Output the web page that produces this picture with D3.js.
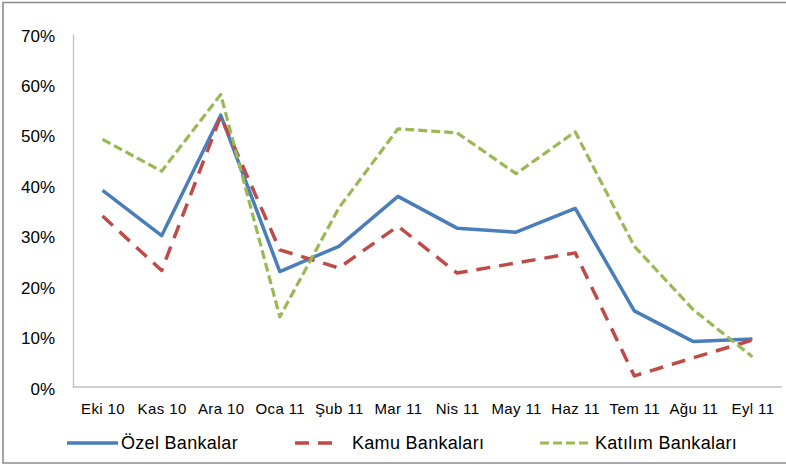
<!DOCTYPE html>
<html>
<head>
<meta charset="utf-8">
<script src="https://cdn.jsdelivr.net/npm/d3@7"></script>
<style>
  body { margin: 0; background: #fff; }
  text { font-family: "Liberation Sans", Arial, sans-serif; fill: #000; }
</style>
</head>
<body>
<script>
var months = ['Eki 10', 'Kas 10', 'Ara 10', 'Oca 11', 'Şub 11', 'Mar 11', 'Nis 11', 'May 11', 'Haz 11', 'Tem 11', 'Ağu 11', 'Eyl 11'];
var ozel = [39.0, 30.0, 53.9, 22.9, 27.9, 37.8, 31.5, 30.7, 35.4, 15.1, 9.0, 9.5];
var kamu = [33.9, 23.1, 53.7, 27.2, 23.6, 31.9, 22.6, 24.6, 26.6, 2.2, 5.8, 9.3];
var katilim = [49.1, 42.8, 58.0, 13.9, 35.5, 51.2, 50.4, 42.3, 50.6, 27.9, 15.3, 6.0];
var yTicks = [0, 10, 20, 30, 40, 50, 60, 70];
var seriesNames = ['Özel Bankalar', 'Kamu Bankaları', 'Katılım Bankaları'];

var series = [
  {name: seriesNames[0], values: ozel, color: '#4A7EBB', dash: null, width: 3.5},
  {name: seriesNames[1], values: kamu, color: '#BE4B48', dash: '14,9', width: 3.5},
  {name: seriesNames[2], values: katilim, color: '#98B954', dash: '9,4', width: 3.2}
];

var W = 786, H = 465;
var plotLeft = 73, plotRight = 782, plotTop = 34, plotBottom = 387;

var svg = d3.select('body').append('svg')
  .attr('width', W)
  .attr('height', H);

// outer frame (left, top, bottom only)
svg.append('path')
  .attr('d', 'M786,2.5 H3 V463 H786')
  .attr('fill', 'none')
  .attr('stroke', '#8c8c8c')
  .attr('stroke-width', 1.6);

var x = d3.scalePoint()
  .domain(months)
  .range([plotLeft, plotRight])
  .padding(0.5);

var y = d3.scaleLinear()
  .domain([0, 70])
  .range([plotBottom, plotTop]);

// y axis
var yAxis = d3.axisLeft(y)
  .tickValues(yTicks)
  .tickSize(0)
  .tickPadding(18)
  .tickFormat(function(d) { return d + '%'; });

var gy = svg.append('g')
  .attr('transform', 'translate(' + plotLeft + ',0)')
  .call(yAxis);
gy.select('.domain').attr('stroke', '#bfbfbf').attr('stroke-width', 1.3);
gy.selectAll('text')
  .attr('font-size', 17)
  .attr('dy', '0.42em')
  .style('font-family', '"Liberation Sans", Arial, sans-serif');

// x axis
var xAxis = d3.axisBottom(x)
  .tickSize(0)
  .tickPadding(16);

var gx = svg.append('g')
  .attr('transform', 'translate(0,' + plotBottom + ')')
  .call(xAxis);
gx.select('.domain').attr('stroke', '#bfbfbf').attr('stroke-width', 1.3)
  .attr('d', 'M' + plotLeft + ',0H' + plotRight);
gx.selectAll('text')
  .attr('font-size', 15)
  .attr('letter-spacing', '0.4px')
  .style('font-family', '"Liberation Sans", Arial, sans-serif');

// lines
var line = d3.line()
  .x(function(d, i) { return x(months[i]); })
  .y(function(d) { return y(d); });

svg.selectAll('path.series')
  .data(series)
  .enter().append('path')
    .attr('class', 'series')
    .attr('d', function(d) { return line(d.values); })
    .attr('fill', 'none')
    .attr('stroke', function(d) { return d.color; })
    .attr('stroke-width', function(d) { return d.width; })
    .attr('stroke-dasharray', function(d) { return d.dash; })
    .attr('stroke-linejoin', 'round');

// legend
var legendX = [[67, 118, 121], [295, 336, 352], [540, 591, 595]];
var legendY = 443;

var lg = svg.selectAll('g.legend')
  .data(series)
  .enter().append('g')
    .attr('class', 'legend');

lg.append('line')
  .attr('x1', function(d, i) { return legendX[i][0]; })
  .attr('x2', function(d, i) { return legendX[i][1]; })
  .attr('y1', legendY)
  .attr('y2', legendY)
  .attr('stroke', function(d) { return d.color; })
  .attr('stroke-width', function(d) { return d.width; })
  .attr('stroke-dasharray', function(d) { return d.dash; });

lg.append('text')
  .attr('x', function(d, i) { return legendX[i][2]; })
  .attr('y', legendY)
  .attr('dy', '0.36em')
  .attr('font-size', 18)
  .attr('letter-spacing', '0.3px')
  .text(function(d) { return d.name; });
</script>
</body>
</html>
